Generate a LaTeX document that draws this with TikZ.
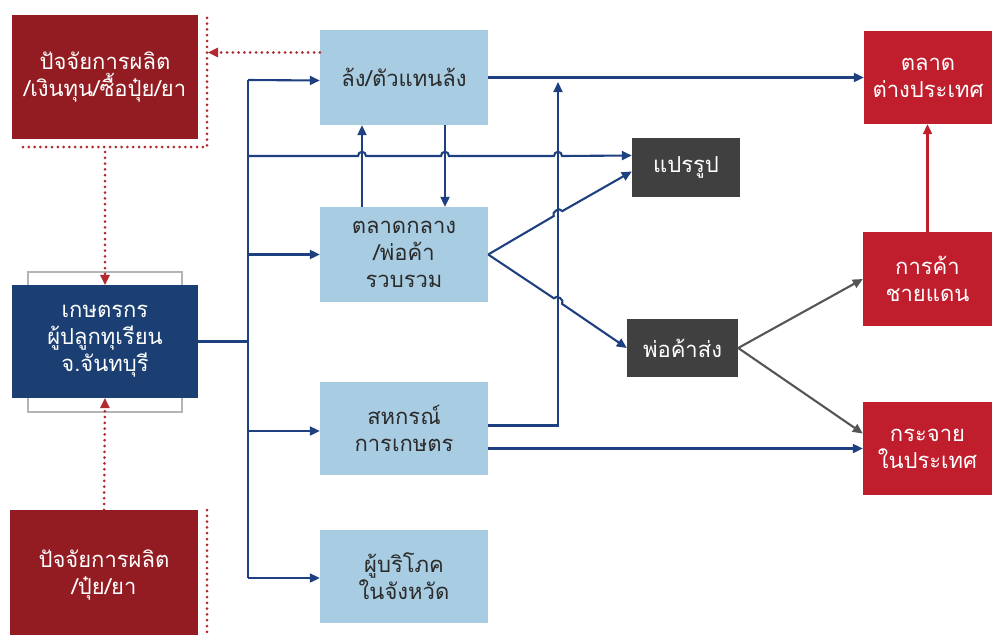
\documentclass[tikz,border=0pt]{standalone}
\usepackage{fontspec}
\newfontfamily\thaifont[Script=Thai]{Loma}
\usetikzlibrary{arrows.meta,calc}
\definecolor{dred}{HTML}{921C22}
\definecolor{bred}{HTML}{C01E2D}
\definecolor{navy}{HTML}{1B3F73}
\definecolor{lblue}{HTML}{A8CCE2}
\definecolor{dgray}{HTML}{404040}
\definecolor{lineblue}{HTML}{1E3F80}
\definecolor{arrgray}{HTML}{555555}
\definecolor{dotred}{HTML}{B02A30}
\definecolor{outl}{HTML}{B4B4B4}
\definecolor{txt}{HTML}{2B2B2B}
\tikzset{
  base/.style={draw=none,align=center,font=\thaifont\fontsize{22}{27}\selectfont,inner sep=0pt},
  redbox/.style={base,fill=dred,text=white},
  rbox/.style={base,fill=bred,text=white},
  navybox/.style={base,fill=navy,text=white},
  lbbox/.style={base,fill=lblue,text=txt,minimum width=168pt},
  gbox/.style={base,fill=dgray,text=white},
  bl/.style={draw=lineblue,line width=2.1pt},
  bla/.style={bl,-{Triangle[length=10pt,width=9pt]}},
  gra/.style={draw=arrgray,line width=2.1pt,-{Triangle[length=10pt,width=9pt]}},
  rda/.style={draw=bred,line width=2.1pt,-{Triangle[length=10pt,width=9pt]}},
  dots/.style={draw=dotred,line width=3pt,line cap=round,dash pattern=on 0pt off 5.8pt},
  dotsa/.style={dots,-{Triangle[length=10pt,width=10pt,fill=dotred,line width=0pt]}},
}
\begin{document}
\begin{tikzpicture}[x=1pt,y=-1pt]
\useasboundingbox (0,0) rectangle (992,634);
% outline behind farmer
\draw[outl,line width=1.6pt] (28,272) rectangle (182,412);
% nodes
\node[redbox,minimum width=186pt,minimum height=124pt] (f1) at (105,77) {ปัจจัยการผลิต\\/เงินทุน/ซื้อปุ๋ย/ยา};
\node[navybox,minimum width=186pt,minimum height=113pt] (farmer) at (105,341.5) {เกษตรกร\\ผู้ปลูกทุเรียน\\จ.จันทบุรี};
\node[redbox,minimum width=188pt,minimum height=130pt] (f2) at (104,575) {ปัจจัยการผลิต\\/ปุ๋ย/ยา};
\node[lbbox,minimum height=95pt] (lang) at (404,77.5) {ล้ง/ตัวแทนล้ง};
\node[lbbox,minimum height=95pt] (klang) at (404,254.5) {ตลาดกลาง\\/พ่อค้า\\รวบรวม};
\node[lbbox,minimum height=93pt] (sahakorn) at (404,428.5) {สหกรณ์\\การเกษตร};
\node[lbbox,minimum height=93pt] (consumer) at (404,576.5) {ผู้บริโภค\\ในจังหวัด};
\node[gbox,minimum width=108pt,minimum height=59pt] (praerup) at (686,167.5) {แปรรูป};
\node[gbox,minimum width=111pt,minimum height=58pt] (porkha) at (682.5,348) {พ่อค้าส่ง};
\node[rbox,minimum width=128pt,minimum height=93pt] (foreign) at (928,77.5) {ตลาด\\ต่างประเทศ};
\node[rbox,minimum width=129pt,minimum height=94pt] (border) at (927.5,279) {การค้า\\ชายแดน};
\node[rbox,minimum width=129pt,minimum height=93pt] (domestic) at (927.5,448.5) {กระจาย\\ในประเทศ};
% dotted red
\draw[dots] (23,147) -- (207,147) -- (207,15);
\draw[dotsa] ([yshift=25pt]lang.west) -- (208,52.5);
\draw[dotsa] (105,152) -- (farmer.north);
\draw[dotsa] (f2.north) -- (farmer.south);
\draw[dots] (207,510) -- (207,634);
% trunk
\coordinate (tk) at (248,341.5);
\draw[bl] (farmer.east) -- (tk);
\draw[bl] (248,80) -- (248,578);
\draw[bla] (248,80) -- ([yshift=-3pt]lang.west);
\draw[bla] (248,254.5) -- (klang.west);
\draw[bla] (248,431) -- ([yshift=-2.5pt]sahakorn.west);
\draw[bla] (248,578) -- ([yshift=-1.5pt]consumer.west);
% line to praerup with hops
\draw[bla] (248,156) -- (358,156) .. controls (358,150.5) and (366,150.5) .. (366,156)
  -- (441,156) .. controls (441,150.5) and (449,150.5) .. (449,156)
  -- (554,156) .. controls (554,150.5) and (562,150.5) .. (562,156)
  -- ([yshift=12pt]praerup.west);
% lang <-> klang
\draw[bla] (klang.north -| 362,0) -- (lang.south -| 362,0);
\draw[bla] (lang.south -| 445,0) -- (klang.north -| 445,0);
% lang -> foreign
\draw[bla] (lang.east) -- (foreign.west);
% sahakorn up to foreign line
\draw[bla] ([yshift=3pt]sahakorn.east) -- (558,425.5) -- (558,82);
% sahakorn -> domestic
\draw[bla] (sahakorn.east |- domestic.west) -- (domestic.west);
% klang -> praerup / porkha with hops
\draw[bla] (klang.east) -- (553.7,216.1) .. controls (551.2,211.8) and (559.8,206.8) .. (562.3,211.1) -- ([yshift=-4pt]praerup.west);
\draw[bla] (klang.east) -- (553.9,298.3) .. controls (556.7,294.2) and (564.9,299.8) .. (562.1,303.9) -- (porkha.west);
% porkha -> border / domestic
\draw[gra] (porkha.east) -- (border.west);
\draw[gra] (porkha.east) -- ([yshift=15pt]domestic.west);
% border -> foreign
\draw[rda] (border.north) -- (foreign.south -| border.north);
\end{tikzpicture}
\end{document}
